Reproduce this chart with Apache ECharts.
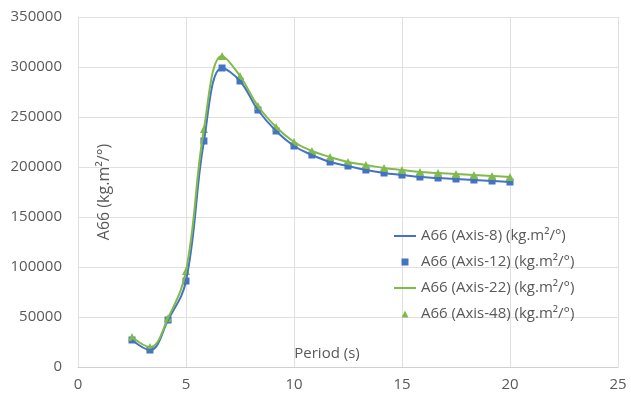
<!DOCTYPE html>
<html>
<head>
<meta charset="utf-8">
<script src="https://cdn.jsdelivr.net/npm/echarts@6/dist/echarts.min.js"></script>
<style>
html, body { margin: 0; padding: 0; background: #fff; }
#chart { width: 631px; height: 398px; }
</style>
</head>
<body>
<div id="chart"></div>
<script>
// periods (s)
var periods = [2.5, 3.33, 4.17, 5, 5.83, 6.67, 7.5, 8.33, 9.17, 10, 10.83, 11.67, 12.5, 13.33, 14.17, 15, 15.83, 16.67, 17.5, 18.33, 19.17, 20];
// A66 values
var axis8 = [27000, 17000, 47000, 86000, 226000, 299000, 286000, 257000, 236000, 221000, 212000, 205000, 201000, 197000, 194000, 192000, 190000, 189000, 188000, 187000, 186000, 185000];
var axis12 = [27000, 17000, 47000, 86000, 226000, 299000, 286000, 257000, 236000, 221000, 212000, 205000, 201000, 197000, 194000, 192000, 190000, 189000, 188000, 187000, 186000, 185000];
var axis22 = [30000, 20000, 49000, 96000, 238000, 311000, 291000, 261000, 240000, 225000, 216000, 210000, 205000, 202000, 199000, 197000, 195000, 194000, 193000, 192000, 191000, 190000];
var axis48 = [30000, 20000, 49000, 96000, 238000, 311000, 291000, 261000, 240000, 225000, 216000, 210000, 205000, 202000, 199000, 197000, 195000, 194000, 193000, 192000, 191000, 190000];
var seriesNames = ['A66 (Axis-8) (kg.m²/°)', 'A66 (Axis-12) (kg.m²/°)', 'A66 (Axis-22) (kg.m²/°)', 'A66 (Axis-48) (kg.m²/°)'];

var blue = '#4472c4';
var green = '#80bb4a';
var font = 'Open Sans';
var lineIcon = 'path://M0,0h22v2h-22z';

function pairs(xs, ys) {
    var out = [];
    for (var i = 0; i < xs.length; i++) {
        out.push([xs[i], ys[i]]);
    }
    return out;
}

var myChart = echarts.init(document.getElementById('chart'));
myChart.setOption({
    animation: false,
    textStyle: { fontFamily: font },
    grid: { left: 78, right: 13, top: 17, bottom: 31, containLabel: false, outerBoundsMode: 'none' },
    legend: {
        orient: 'vertical',
        left: 389,
        top: 222,
        itemWidth: 22,
        itemHeight: 7,
        itemGap: 8,
        symbolKeepAspect: true,
        textStyle: { color: '#595959', fontSize: 15, fontFamily: font, lineHeight: 18 },
        data: [
            { name: seriesNames[0], icon: lineIcon },
            { name: seriesNames[1], icon: 'path://M0,0h1v1h-1z' },
            { name: seriesNames[2], icon: lineIcon },
            { name: seriesNames[3], icon: 'path://M0.5,0L1,1L0,1z' }
        ]
    },
    xAxis: {
        type: 'value',
        min: 0,
        max: 25,
        interval: 5,
        name: 'Period (s)',
        nameLocation: 'middle',
        nameGap: -21,
        nameMoveOverlap: false,
        nameTextStyle: { color: '#595959', fontSize: 15, padding: [0, 42, 0, 0] },
        axisLine: { show: true, lineStyle: { color: '#d0d0d0' } },
        axisTick: { show: false },
        axisLabel: { color: '#595959', fontSize: 15, margin: 10 },
        splitLine: { show: true, lineStyle: { color: '#e0e0e0' } }
    },
    yAxis: {
        type: 'value',
        min: 0,
        max: 350000,
        interval: 50000,
        name: 'A66 (kg.m²/°)',
        nameLocation: 'middle',
        nameGap: -34,
        nameMoveOverlap: false,
        nameTextStyle: { color: '#595959', fontSize: 16 },
        axisLine: { show: true, lineStyle: { color: '#e0e0e0' } },
        axisTick: { show: false },
        axisLabel: {
            color: '#595959', fontSize: 15, margin: 16,
            formatter: function (v) { return String(v); }
        },
        splitLine: { show: true, lineStyle: { color: '#e0e0e0' } }
    },
    series: [
        {
            name: seriesNames[0],
            type: 'line',
            smooth: 0.4,
            symbol: 'none',
            data: pairs(periods, axis8),
            lineStyle: { color: blue, width: 2 },
            itemStyle: { color: blue }
        },
        {
            name: seriesNames[1],
            type: 'scatter',
            symbol: 'rect',
            symbolSize: 7,
            data: pairs(periods, axis12),
            itemStyle: { color: blue, opacity: 1 }
        },
        {
            name: seriesNames[2],
            type: 'line',
            smooth: 0.4,
            symbol: 'none',
            data: pairs(periods, axis22),
            lineStyle: { color: green, width: 2 },
            itemStyle: { color: green }
        },
        {
            name: seriesNames[3],
            type: 'scatter',
            symbol: 'triangle',
            symbolSize: 8,
            data: pairs(periods, axis48),
            itemStyle: { color: green, opacity: 1 }
        }
    ]
});
</script>
</body>
</html>
